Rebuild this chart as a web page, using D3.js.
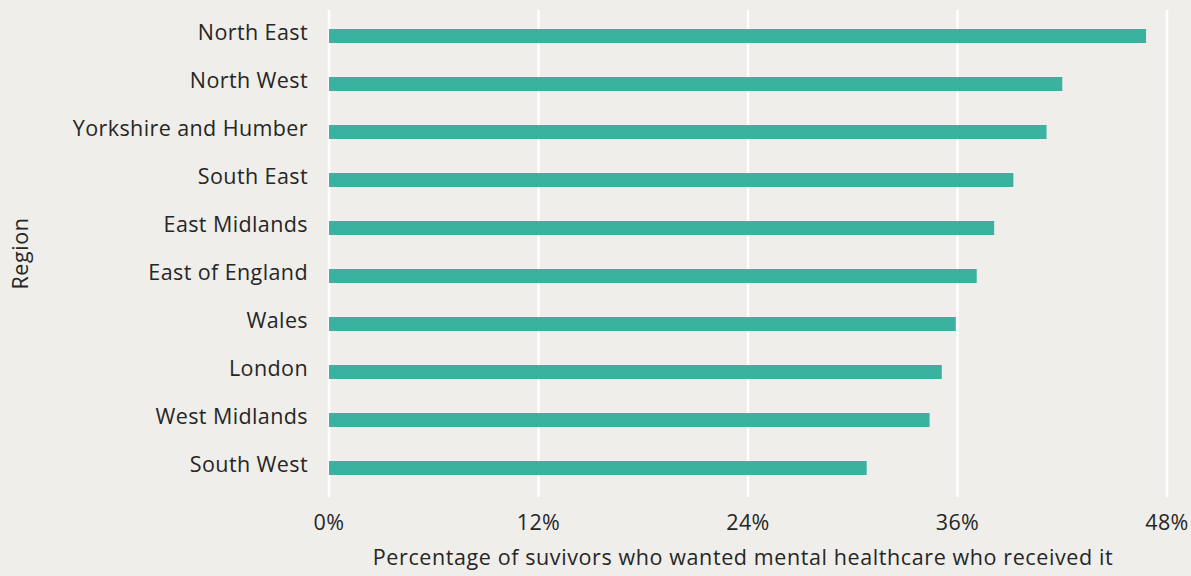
<!DOCTYPE html>
<html>
<head>
<meta charset="utf-8">
<script src="https://cdn.jsdelivr.net/npm/d3@7"></script>
<style>
  html, body { margin: 0; padding: 0; background: #efeeea; }
  svg { display: block; font-family: "Open Sans", "Noto Sans", sans-serif; }
  .gridline { stroke: #ffffff; stroke-width: 2.5; }
  .bar { fill: #3bb2a0; }
  .lbl, .axis-title { fill: #262626; font-size: 21.5px; letter-spacing: 0.6px; }
  .lbl { letter-spacing: 0.4px; }
</style>
</head>
<body>
<div id="chart"></div>
<script>
// Regions, top to bottom, and the share who got the care they wanted (%).
const regions = [
  "North East", "North West", "Yorkshire and Humber", "South East", "East Midlands",
  "East of England", "Wales", "London", "West Midlands", "South West"
];
const received = [46.8, 42.0, 41.1, 39.2, 38.1, 37.1, 35.9, 35.1, 34.4, 30.8];
const xTicks = [0, 12, 24, 36, 48];

const width = 1191, height = 576;
const m = { top: 10, right: 24, bottom: 79, left: 329 };
const iW = width - m.left - m.right, iH = height - m.top - m.bottom;

const svg = d3.select("#chart").append("svg")
  .attr("width", width).attr("height", height);
const g = svg.append("g").attr("transform", `translate(${m.left},${m.top})`);

const x = d3.scaleLinear([0, 48], [0, 838]);
// bands: step 48, bar 14px tall, centered on the reference rows
const y = d3.scaleBand(regions, [2, 482]).paddingInner(1 - 14 / 48).paddingOuter((1 - 14 / 48) / 2);

g.append("g").selectAll("line").data(xTicks).join("line")
  .attr("class", "gridline")
  .attr("x1", (d) => x(d)).attr("x2", (d) => x(d))
  .attr("y1", 0).attr("y2", iH);

g.append("g").selectAll("rect").data(regions).join("rect")
  .attr("class", "bar")
  .attr("x", x(0))
  .attr("y", (d) => y(d))
  .attr("width", (d, i) => x(received[i]) - x(0))
  .attr("height", y.bandwidth());

// category labels -- sit a few px above the bar's centre, as in the original
g.append("g").selectAll("text").data(regions).join("text")
  .attr("class", "lbl")
  .attr("x", -21)
  .attr("y", (d) => y(d) + y.bandwidth() / 2 + 4)
  .attr("text-anchor", "end")
  .text((d) => d);

// tick labels
g.append("g").selectAll("text").data(xTicks).join("text")
  .attr("class", "lbl")
  .attr("x", (d) => x(d))
  .attr("y", iH + 33)
  .attr("text-anchor", "middle")
  .text((d) => `${d}%`);

g.append("text").attr("class", "axis-title")
  .attr("x", x(24) - 5).attr("y", iH + 68)
  .attr("text-anchor", "middle")
  .text("Percentage of suvivors who wanted mental healthcare who received it");

g.append("text").attr("class", "axis-title")
  .attr("text-anchor", "middle")
  .attr("transform", `translate(${-301},${iH / 2}) rotate(-90)`)
  .text("Region");
</script>
</body>
</html>
